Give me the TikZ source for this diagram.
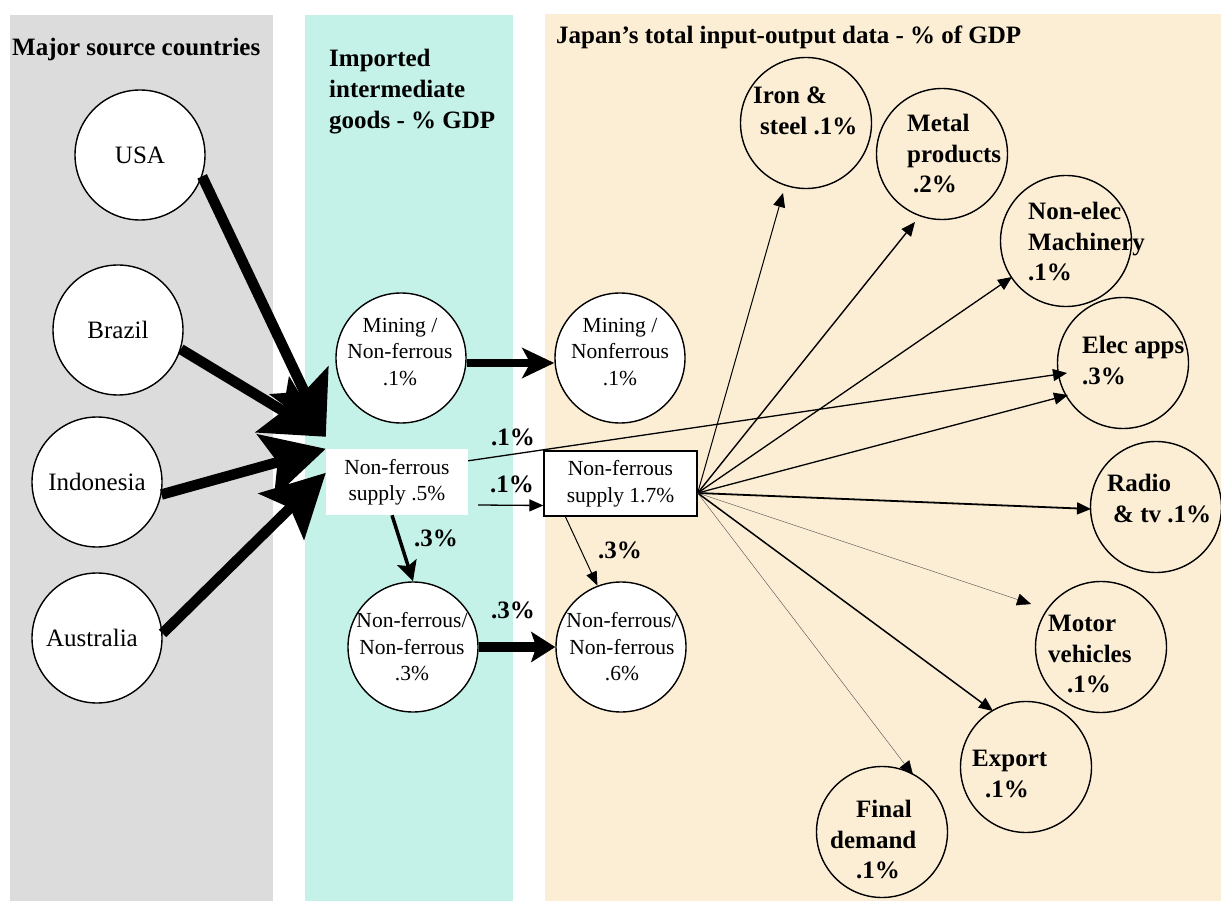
\documentclass[tikz,border=0pt]{standalone}
\usepackage{fontspec}
\setmainfont{Liberation Serif}
\usetikzlibrary{arrows.meta,calc}
\definecolor{panelgrey}{RGB}{220,220,220}
\definecolor{panelteal}{RGB}{197,242,232}
\definecolor{panelbeige}{RGB}{252,238,213}
\begin{document}
\begin{tikzpicture}[x=1pt,y=-1pt,
  circ/.style={circle,draw,line width=1.4pt,fill=white,minimum size=130pt,inner sep=0pt},
  ocirc/.style={circle,draw,line width=1.4pt,minimum size=131pt,inner sep=0pt},
  cty/.style={font=\fontsize{25}{30}\selectfont},
  mid/.style={font=\fontsize{21.5}{26.5}\selectfont,align=center,inner sep=0pt},
  bl/.style={font=\fontsize{25}{30.5}\selectfont\bfseries,align=left,inner sep=0pt,anchor=north west},
  hdr/.style={font=\fontsize{25}{31}\selectfont\bfseries,align=left,inner sep=0pt,anchor=north west},
  pct/.style={font=\fontsize{25}{30}\selectfont\bfseries,inner sep=0pt},
  bigarrow/.style={line width=10.5pt,-{Stealth[length=62pt,width=64pt,inset=12pt]}},
  fanarrow/.style={line width=1.3pt,-{Triangle[length=14pt,width=12pt]}},
  thinarrow/.style={line width=0.4pt,draw=black!70,-{Triangle[length=14pt,width=12pt,color=black]}}
]
\useasboundingbox (0,0) rectangle (1221,901);
\fill[white] (0,0) rectangle (1221,901);
\fill[panelgrey] (10,15) rectangle (272.5,901);
\fill[panelteal] (305,15) rectangle (513,901);
\fill[panelbeige] (545,14) rectangle (1221,901);

% headers
\node[hdr] (h1) at (12,38) {Major source countries};
\node[hdr] (h2) at (329,49) {Imported\\intermediate\\goods - \% GDP};
\node[hdr] (h3) at (556,26) {Japan’s total input-output data - \% of GDP};

% countries
\node[circ,cty] (usa) at (140,155) {USA};
\node[circ,cty] (brazil) at (118,330) {Brazil};
\node[circ,cty] (indonesia) at (97,482) {Indonesia};
\node[circ,cty] (australia) at (97,638) {\hspace*{-10pt}Australia};

% middle circles
\node[circ] (mL) at (401,358) {};
\node[mid] (mLt) at (400,352) {Mining /\\Non-ferrous\\.1\%};
\node[circ] (mR) at (620,358) {};
\node[mid] (mRt) at (620,352) {Mining /\\Nonferrous\\.1\%};
\node[circ] (nL) at (413,647) {};
\node[mid] (nLt) at (412,647) {Non-ferrous/\\Non-ferrous\\.3\%};
\node[circ] (nR) at (621,647) {};
\node[mid] (nRt) at (622,647) {Non-ferrous/\\Non-ferrous\\.6\%};

% boxes
\node[mid,fill=white,minimum width=142pt,minimum height=66pt] (s5) at (397,482) {Non-ferrous\\supply .5\%};
\node[mid,draw,line width=1.3pt,fill=white,minimum width=153pt,minimum height=65pt] (s17) at (620.5,483.5) {Non-ferrous\\supply 1.7\%};

% right circles (unfilled)
\node[ocirc] (iron) at (806,123) {};
\node[ocirc] (metal) at (942,154) {};
\node[ocirc] (nonelec) at (1066,241) {};
\node[ocirc] (elec) at (1123,363) {};
\node[ocirc] (radio) at (1156,507) {};
\node[ocirc] (motor) at (1101,647) {};
\node[ocirc] (export) at (1026,767) {};
\node[ocirc] (final) at (882,832) {};

\node[bl] (ironT) at (753,87) {Iron \&\\\hspace*{7pt}steel .1\%};
\node[bl] (metalT) at (907,114) {Metal\\products\\\hspace*{6pt}.2\%};
\node[bl] (nonelecT) at (1028,202) {Non-elec\\Machinery\\.1\%};
\node[bl] (elecT) at (1082,336) {Elec apps\\.3\%};
\node[bl] (radioT) at (1107,474) {Radio\\\hspace*{6pt}\& tv .1\%};
\node[bl] (motorT) at (1048,615) {Motor\\vehicles\\\hspace*{19pt}.1\%};
\node[bl] (exportT) at (972,750) {Export\\\hspace*{13pt}.1\%};
\node[bl] (finalT) at (830,800) {\hspace*{26pt}Final\\demand\\\hspace*{26pt}.1\%};

% percentage labels
\node[pct] (p1) at (513,437) {.1\%};
\node[pct] (p2) at (512,484) {.1\%};
\node[pct] (p3) at (436,538) {.3\%};
\node[pct] (p4) at (620,550) {.3\%};
\node[pct] (p5) at (513,610) {.3\%};

% country arrows
\draw[bigarrow] (usa.-19) -- ([yshift=12pt]s5.north west);
\draw[bigarrow] (brazil.-17) -- ([yshift=12pt]s5.north west);
\draw[bigarrow] (indonesia.-11) -- (s5.north west);
\draw[bigarrow] (australia.4) -- ([yshift=-24pt]s5.north west);

% middle arrows
\draw[line width=8pt,-{Stealth[length=32pt,width=30pt,inset=8pt]}] ([yshift=-5pt]mL.east) -- ([yshift=-5pt]mR.west);
\draw[line width=10pt,-{Stealth[length=24pt,width=30pt,inset=5pt]}] (nL.east) -- (nR.west);
\draw[line width=3.5pt,-{Stealth[length=20pt,width=20pt,inset=4pt]}] ([xshift=-5pt]s5.south) -- (nL.north);
\draw[line width=1pt,-{Triangle[length=14pt,width=11pt]}] ([xshift=22pt]s17.south west) -- (nR.111);
\draw[line width=1.3pt,-{Triangle[length=14pt,width=12pt]}] ([xshift=10pt,yshift=-23pt]s5.east) -- ([yshift=-22pt]s17.west);
\draw[fanarrow] ([yshift=-12pt]s5.north east) -- ($(elec)+(-56,10)$);

% fan
\coordinate (fo) at ([yshift=-9.5pt]s17.east);
\draw[fanarrow,line width=1pt] (fo) -- ($(iron)+(-23,70)$);
\draw[fanarrow,line width=1.4pt] (fo) -- ($(metal)+(-27,68)$);
\draw[fanarrow] (fo) -- ($(nonelec)+(-54,36)$);
\draw[fanarrow] (fo) -- ($(elec)+(-55,32)$);
\draw[fanarrow,line width=1.8pt] (fo) -- ($(radio)+(-65,2)$);
\draw[thinarrow] (fo) -- ($(motor)+(-70,-43)$);
\draw[fanarrow,line width=1.5pt] (fo) -- ($(export)+(-33,-56)$);
\draw[thinarrow] (fo) -- ($(final)+(31,-57)$);
\end{tikzpicture}
\end{document}
